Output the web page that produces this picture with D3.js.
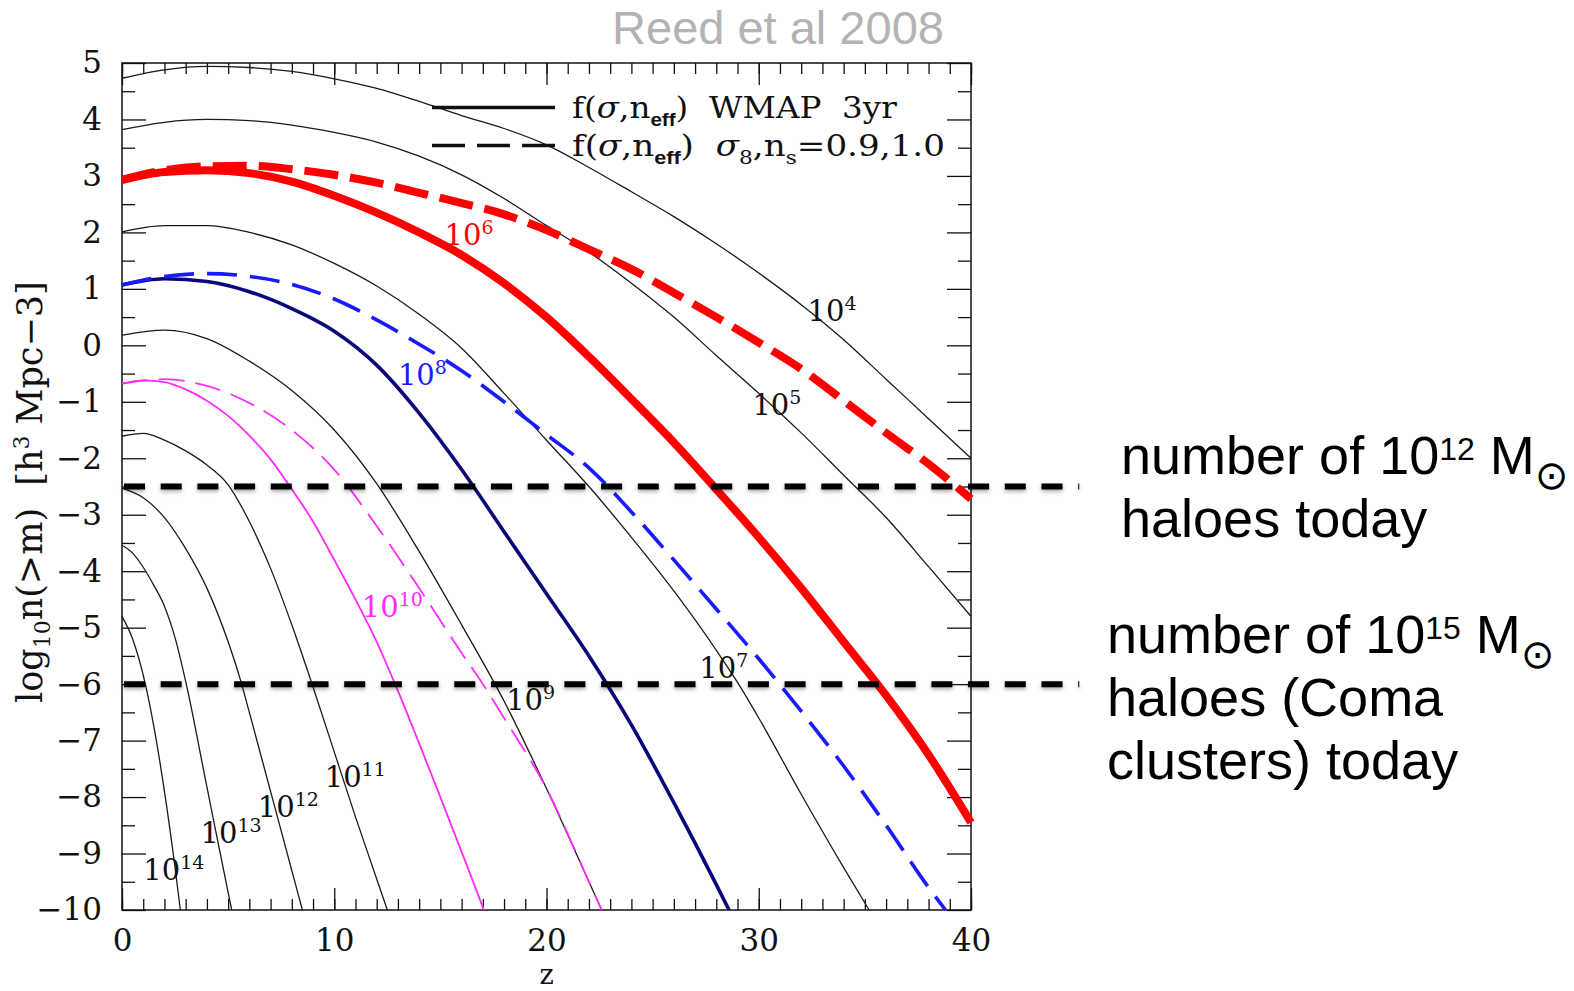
<!DOCTYPE html>
<html>
<head>
<meta charset="utf-8">
<script src="https://cdn.jsdelivr.net/npm/d3@7"></script>
<style>
body { margin: 0; background: #fff; }
svg text { white-space: pre; }
</style>
</head>
<body>
<div id="chart"></div>
<script>
// halo abundance log10 n(>m) vs redshift z
var zStd = [0, 2, 4, 6, 8, 10, 12, 14, 16, 18, 20, 22, 24, 26, 28, 30, 32, 34, 36, 38, 40];
var n4 = [4.73, 4.88, 4.94, 4.92, 4.85, 4.72, 4.55, 4.32, 4.07, 3.84, 3.55, 3.15, 2.72, 2.28, 1.8, 1.28, 0.72, 0.1, -0.6, -1.3, -2.0];
var n5 = [3.82, 3.95, 4.0, 3.98, 3.9, 3.77, 3.6, 3.35, 3.02, 2.6, 2.12, 1.65, 1.1, 0.5, -0.18, -0.85, -1.55, -2.3, -3.05, -3.92, -4.8];
var n6 = [2.93, 3.07, 3.1, 3.05, 2.9, 2.65, 2.35, 2.0, 1.6, 1.1, 0.5, -0.2, -0.95, -1.72, -2.55, -3.4, -4.3, -5.25, -6.2, -7.25, -8.45];
var n6dash = [2.93, 3.1, 3.17, 3.18, 3.12, 3.02, 2.88, 2.7, 2.52, 2.32, 2.04, 1.7, 1.35, 0.93, 0.5, 0.05, -0.42, -0.98, -1.55, -2.1, -2.72];

var z7 = [0, 2, 4, 6, 8, 10, 12, 14, 16, 18, 20, 22, 24, 26, 28, 29, 30, 32, 34, 35.2];
var n7 = [2.01, 2.12, 2.12, 2.0, 1.78, 1.45, 1.05, 0.55, -0.05, -0.85, -1.68, -2.5, -3.4, -4.35, -5.4, -5.97, -6.6, -7.95, -9.25, -10];

var z8dash = [0, 2, 4, 6, 8, 10, 12, 14, 16, 18, 20, 22, 24, 26, 28, 30, 32, 34, 36, 38, 38.8];
var n8dash = [1.07, 1.22, 1.27, 1.22, 1.08, 0.82, 0.45, 0.02, -0.45, -1.0, -1.58, -2.17, -2.95, -3.8, -4.67, -5.55, -6.48, -7.45, -8.5, -9.6, -10];
var z8 = [0, 2, 4, 6, 8, 10, 12, 14, 16, 18, 20, 22, 24, 26, 28, 28.6];
var n8 = [1.07, 1.18, 1.13, 0.95, 0.65, 0.25, -0.35, -1.2, -2.2, -3.3, -4.4, -5.5, -6.72, -8.1, -9.55, -10];

var z9 = [0, 2, 4, 6, 8, 10, 12, 14, 16, 18, 20, 22, 22.6];
var n9 = [0.18, 0.27, 0.12, -0.28, -0.8, -1.5, -2.45, -3.65, -4.95, -6.3, -7.85, -9.5, -10];

var z10 = [0, 1, 2, 3, 4, 5, 6, 7, 8, 9, 10, 11, 12, 13, 14, 15, 16, 17, 17.05];
var n10 = [-0.68, -0.62, -0.65, -0.78, -0.98, -1.25, -1.6, -2.02, -2.55, -3.12, -3.8, -4.5, -5.25, -6.12, -7.05, -8.0, -8.97, -9.95, -10];
var z10dash = [0, 2, 4, 6, 8, 10, 12, 14, 16, 17, 18, 20, 22, 22.6];
var n10dash = [-0.68, -0.6, -0.72, -1.02, -1.5, -2.2, -3.2, -4.3, -5.45, -6.0, -6.6, -7.85, -9.5, -10];

var z11 = [0, 1, 2, 3, 4, 5, 6, 7, 8, 9, 10, 11, 12, 12.5];
var n11 = [-1.61, -1.56, -1.68, -1.87, -2.12, -2.47, -3.12, -3.95, -4.95, -6.05, -7.2, -8.35, -9.45, -10];
var z12 = [0, 1, 2, 3, 4, 5, 5.6, 6, 7, 8, 8.5];
var n12 = [-2.53, -2.7, -3.05, -3.6, -4.3, -5.25, -5.95, -6.5, -7.9, -9.3, -10];
var z13 = [0, 0.5, 1, 1.5, 2, 2.5, 3, 4, 5, 5.17];
var n13 = [-3.54, -3.68, -3.93, -4.25, -4.62, -5.18, -5.95, -7.82, -9.69, -10];
var z14 = [0, 0.5, 1.1, 1.5, 2, 2.5, 2.75];
var n14 = [-4.8, -5.2, -6.0, -6.75, -7.9, -9.25, -10];

// curve labels: exponent of the mass, placed at (z, log n)
var labelExp = ["4", "5", "6", "7", "8", "9", "10", "11", "12", "13", "14"];
var labelZ = [32.3, 29.7, 15.2, 27.2, 13.0, 18.1, 11.3, 9.55, 6.4, 3.7, 1.0];
var labelN = [0.43, -1.23, 1.78, -5.89, -0.7, -6.45, -4.81, -7.82, -8.35, -8.81, -9.46];

// "today" abundance levels for 1e12 and 1e15 Msun haloes
var todayLevels = [-2.5, -6];
var todayZEnd = 45.1;

var zTicks = [0, 10, 20, 30, 40];
var yTicks = [-10, -9, -8, -7, -6, -5, -4, -3, -2, -1, 0, 1, 2, 3, 4, 5];

var w = 1574;
var h = 991;
var serif = "'DejaVu Serif', 'Liberation Serif', serif";
var sans = "'Liberation Sans', Arial, sans-serif";

var svg = d3.select("#chart")
    .append("svg")
    .attr("width", w)
    .attr("height", h);

var x = d3.scaleLinear().domain([0, 40]).range([122, 971]);
var y = d3.scaleLinear().domain([-10, 5]).range([910, 63]);

var defs = svg.append("defs");
defs.append("clipPath").attr("id", "plotclip")
    .append("rect")
    .attr("x", x(0) - 2).attr("y", y(5) - 2)
    .attr("width", x(40) - x(0) + 8).attr("height", y(-10) - y(5) + 4);
var shadow = defs.append("filter").attr("id", "shadow")
    .attr("filterUnits", "userSpaceOnUse")
    .attr("x", 0).attr("y", 0).attr("width", w).attr("height", h);
shadow.append("feDropShadow")
    .attr("dx", 0).attr("dy", 2).attr("stdDeviation", 2)
    .attr("flood-color", "#000").attr("flood-opacity", 0.35);

// title
svg.append("text")
    .attr("x", 778)
    .attr("y", 44)
    .attr("text-anchor", "middle")
    .attr("font-family", sans)
    .attr("font-size", 47)
    .attr("fill", "#b3b3b3")
    .text("Reed et al 2008");

// axes: major + minor ticks on all four sides, pointing inward
function styleAxis(g) {
    g.select(".domain").remove();
    g.selectAll("line").attr("stroke", "#111").attr("stroke-width", 1.3);
    g.selectAll("text").attr("font-family", serif).attr("font-size", 31).attr("fill", "#111");
}
var fmt = d3.format("d");

svg.append("g").attr("transform", "translate(0," + y(-10) + ")")
    .call(d3.axisBottom(x).tickValues(zTicks).tickSize(-22).tickPadding(19).tickFormat(fmt))
    .call(styleAxis);
svg.append("g").attr("transform", "translate(0," + y(-10) + ")")
    .call(d3.axisBottom(x).tickValues(d3.range(0, 41, 1)).tickSize(-11).tickFormat(""))
    .call(styleAxis);
svg.append("g").attr("transform", "translate(0," + y(5) + ")")
    .call(d3.axisTop(x).tickValues(zTicks).tickSize(-22).tickFormat(""))
    .call(styleAxis);
svg.append("g").attr("transform", "translate(0," + y(5) + ")")
    .call(d3.axisTop(x).tickValues(d3.range(0, 41, 1)).tickSize(-11).tickFormat(""))
    .call(styleAxis);
svg.append("g").attr("transform", "translate(" + x(0) + ",0)")
    .call(d3.axisLeft(y).tickValues(yTicks).tickSize(-24).tickPadding(20).tickFormat(fmt))
    .call(styleAxis);
svg.append("g").attr("transform", "translate(" + x(0) + ",0)")
    .call(d3.axisLeft(y).tickValues(d3.range(-9.5, 5, 1)).tickSize(-13).tickFormat(""))
    .call(styleAxis);
svg.append("g").attr("transform", "translate(" + x(40) + ",0)")
    .call(d3.axisRight(y).tickValues(yTicks).tickSize(-24).tickFormat(""))
    .call(styleAxis);
svg.append("g").attr("transform", "translate(" + x(40) + ",0)")
    .call(d3.axisRight(y).tickValues(d3.range(-9.5, 5, 1)).tickSize(-13).tickFormat(""))
    .call(styleAxis);

svg.append("rect")
    .attr("x", x(0)).attr("y", y(5))
    .attr("width", x(40) - x(0)).attr("height", y(-10) - y(5))
    .attr("fill", "none").attr("stroke", "#111").attr("stroke-width", 1.5);

// axis titles
svg.append("text")
    .attr("x", x(20))
    .attr("y", 984)
    .attr("text-anchor", "middle")
    .attr("font-family", serif)
    .attr("font-size", 27)
    .attr("fill", "#111")
    .text("z");

var ylab = svg.append("text")
    .attr("transform", "translate(42," + y(-2.6) + ") rotate(-90)")
    .attr("text-anchor", "middle")
    .attr("font-family", serif)
    .attr("font-size", 35)
    .attr("fill", "#111");
ylab.append("tspan").text("log");
ylab.append("tspan").attr("font-size", 22).attr("dy", 8).text("10");
ylab.append("tspan").attr("dy", -8).text("n(>m)  [h");
ylab.append("tspan").attr("font-size", 22).attr("dy", -13).text("3");
ylab.append("tspan").attr("dy", 13).text(" Mpc\u22123]");

// curves
var curves = [
    { z: zStd, n: n4, color: "#1a1a1a", width: 1.3, dash: null },
    { z: zStd, n: n5, color: "#1a1a1a", width: 1.3, dash: null },
    { z: z7, n: n7, color: "#1a1a1a", width: 1.3, dash: null },
    { z: z9, n: n9, color: "#1a1a1a", width: 1.3, dash: null },
    { z: z11, n: n11, color: "#1a1a1a", width: 1.3, dash: null },
    { z: z12, n: n12, color: "#1a1a1a", width: 1.3, dash: null },
    { z: z13, n: n13, color: "#1a1a1a", width: 1.3, dash: null },
    { z: z14, n: n14, color: "#1a1a1a", width: 1.3, dash: null },
    { z: z10, n: n10, color: "#ff2bff", width: 1.8, dash: null },
    { z: z10dash, n: n10dash, color: "#ff2bff", width: 1.8, dash: "26,11" },
    { z: z8, n: n8, color: "#08087a", width: 3.6, dash: null },
    { z: z8dash, n: n8dash, color: "#1a1aff", width: 3.6, dash: "30,13" },
    { z: zStd, n: n6, color: "#ff0000", width: 8, dash: null },
    { z: zStd, n: n6dash, color: "#ff0000", width: 8, dash: "34,12" }
];

var line = d3.line()
    .x(function(d) { return x(d[0]); })
    .y(function(d) { return y(d[1]); })
    .curve(d3.curveMonotoneX);

var curveGroup = svg.append("g").attr("clip-path", "url(#plotclip)");
curveGroup.selectAll("path")
    .data(curves)
    .enter().append("path")
    .attr("d", function(c) { return line(d3.zip(c.z, c.n)); })
    .attr("fill", "none")
    .attr("stroke", function(c) { return c.color; })
    .attr("stroke-width", function(c) { return c.width; })
    .attr("stroke-dasharray", function(c) { return c.dash; })
    .attr("stroke-linejoin", "round");

// curve labels 10^x
var labelColor = { "6": "#ff0000", "8": "#1a1aff", "10": "#ff2bff" };
var labels = svg.append("g")
    .selectAll("text")
    .data(labelExp)
    .enter().append("text")
    .attr("x", function(d, i) { return x(labelZ[i]); })
    .attr("y", function(d, i) { return y(labelN[i]); })
    .attr("font-family", serif)
    .attr("font-size", 29)
    .attr("fill", function(d) { return labelColor[d] || "#111"; });
labels.append("tspan").text("10");
labels.append("tspan")
    .attr("font-size", 19)
    .attr("dy", -11)
    .text(function(d) { return d; });

// legend
var legend = svg.append("g");
legend.append("line")
    .attr("x1", 432).attr("x2", 555).attr("y1", 107.5).attr("y2", 107.5)
    .attr("stroke", "#111").attr("stroke-width", 3.5);
legend.append("line")
    .attr("x1", 432).attr("x2", 555).attr("y1", 145.5).attr("y2", 145.5)
    .attr("stroke", "#111").attr("stroke-width", 3.5)
    .attr("stroke-dasharray", "33,12");

var legendTexts = [
    { y: 118, width: 325, tail: [[")  WMAP  3yr", 0]] },
    { y: 156, width: 373, tail: [[")  ", 0], ["\u03c3", 0], ["8", 1], [",n", 0], ["s", 1], ["=0.9,1.0", 0]] }
];
legendTexts.forEach(function(t) {
    var tx = legend.append("text")
        .attr("font-family", serif)
        .attr("font-size", 30)
        .attr("fill", "#111");
    tx.append("tspan").text("f(");
    tx.append("tspan").attr("font-style", "italic").text("\u03c3");
    tx.append("tspan").text(",n");
    tx.append("tspan").attr("font-family", sans).attr("font-weight", "bold")
        .attr("font-size", 19).attr("dy", 8).text("eff");
    var low = true;
    t.tail.forEach(function(p) {
        var dy = 0;
        if (p[1] === 1 && !low) { dy = 8; low = true; }
        else if (p[1] === 0 && low) { dy = -8; low = false; }
        var s = tx.append("tspan").attr("dy", dy).text(p[0]);
        if (p[1] === 1) s.attr("font-size", 19);
        if (p[0] === "\u03c3") s.attr("font-style", "italic");
    });
    var bw = tx.node().getComputedTextLength();
    tx.attr("transform", "translate(572," + t.y + ") scale(" + (t.width / bw) + ",1)");
});

// horizontal "today" levels
svg.append("g")
    .attr("filter", "url(#shadow)")
    .selectAll("line")
    .data(todayLevels)
    .enter().append("line")
    .attr("x1", x(0) + 2)
    .attr("x2", x(todayZEnd))
    .attr("y1", function(d) { return y(d); })
    .attr("y2", function(d) { return y(d); })
    .attr("stroke", "#000")
    .attr("stroke-width", 6)
    .attr("stroke-dasharray", "21,15.7");

// annotations on the right
function annot(x0, y0, mass, rest) {
    var t = svg.append("text")
        .attr("x", x0).attr("y", y0)
        .attr("font-family", sans)
        .attr("font-size", 54)
        .attr("fill", "#000");
    t.append("tspan").text("number of 10");
    t.append("tspan").attr("font-size", 32).attr("dy", -14).text(mass);
    t.append("tspan").attr("dy", 14).text(" M");
    t.append("tspan").attr("font-family", "'DejaVu Sans', sans-serif")
        .attr("font-size", 40).attr("dy", 15).text("\u2299");
    rest.forEach(function(r, i) {
        svg.append("text")
            .attr("x", x0).attr("y", y0 + 63 * (i + 1))
            .attr("font-family", sans)
            .attr("font-size", 54)
            .attr("fill", "#000")
            .text(r);
    });
}
annot(1121, 474, "12", ["haloes today"]);
annot(1107, 653, "15", ["haloes (Coma", "clusters) today"]);
</script>
</body>
</html>
